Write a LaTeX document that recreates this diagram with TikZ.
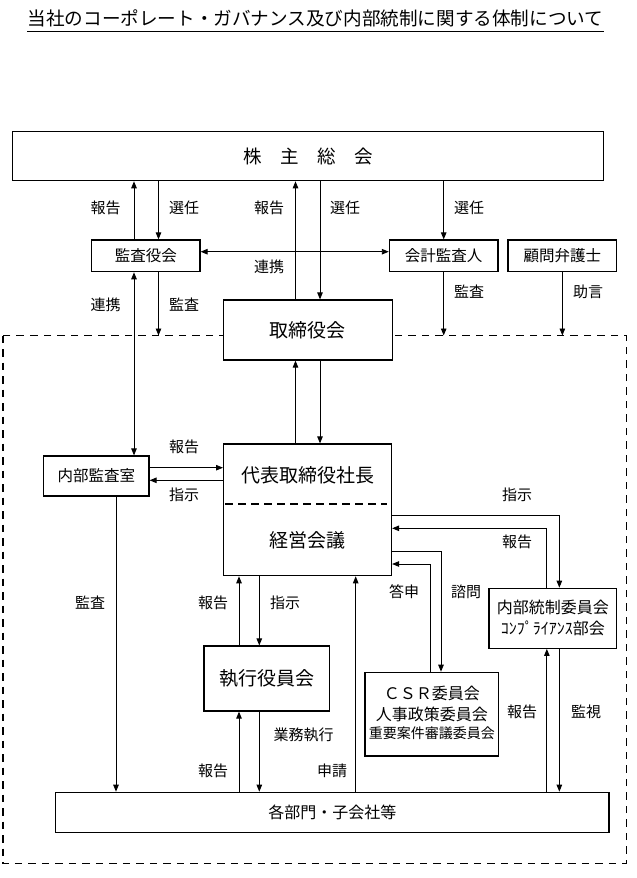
\documentclass[tikz,border=0pt]{standalone}
\usepackage{fontspec}
\setmainfont{Noto Sans CJK JP}
\usetikzlibrary{arrows.meta}
\begin{document}
\begin{tikzpicture}[x=1pt,y=-1pt,
  box/.style={draw, line width=1.2pt, fill=white, inner sep=0pt, align=center},
  lbl/.style={inner sep=0pt, font=\fontsize{15}{15}\selectfont},
  arr/.style={line width=0.9pt, -{Triangle[length=7pt,width=5.5pt]}},
  darr/.style={line width=0.9pt, {Triangle[length=7pt,width=5.5pt]}-{Triangle[length=7pt,width=5.5pt]}},
  frame/.style={line width=1.6pt, dash pattern=on 7.5pt off 6pt}]
\useasboundingbox (0,0) rectangle (637,878);
% title
\node[inner sep=0pt, font=\fontsize{18.6}{18.6}\selectfont] (title) at (315.5,18.8) {当社のコーポレート・ガバナンス及び内部統制に関する体制について};
\draw[line width=1pt] ([yshift=-3.4pt]title.south west) -- ([yshift=-3.4pt]title.south east);
% dashed frame
\draw[frame] (2.7,335.5) rectangle (626.3,863.3);
\coordinate (dtop) at (0,335.5);
% boxes
\node[box, minimum width=591pt, minimum height=49pt, font=\fontsize{18.5}{18.5}\selectfont] (kabu) at (308.2,156.2) {株　主　総　会};
\node[box, minimum width=108.5pt, minimum height=31.7pt, font=\fontsize{15.5}{15.5}\selectfont] (kansa) at (145.75,255.85) {監査役会};
\node[box, minimum width=108.6pt, minimum height=31.7pt, font=\fontsize{15.5}{15.5}\selectfont] (kaikei) at (443.7,255.85) {会計監査人};
\node[box, minimum width=108.7pt, minimum height=31.7pt, font=\fontsize{15.5}{15.5}\selectfont] (komon) at (562.35,255.85) {顧問弁護士};
\node[box, minimum width=168.7pt, minimum height=60pt, font=\fontsize{19}{19}\selectfont] (tori) at (307.95,330) {取締役会};
\node[box, minimum width=105.5pt, minimum height=40pt, font=\fontsize{15.5}{15.5}\selectfont] (naibu) at (96.25,476) {内部監査室};
\node[box, minimum width=167.9pt, minimum height=131.7pt] (daihyo) at (307.55,509.85) {};
\node[lbl, font=\fontsize{19}{19}\selectfont] (daihyoT) at (307.55,475) {代表取締役社長};
\node[lbl, font=\fontsize{19}{19}\selectfont] (keiei) at (307.55,540) {経営会議};
\draw[line width=1.6pt, dash pattern=on 7.5pt off 5.5pt] ([xshift=2pt,yshift=5.85pt]daihyo.west) -- ([xshift=-5.5pt,yshift=5.85pt]daihyo.east);
\node[box, minimum width=127.7pt, minimum height=60pt] (tosei) at (552.85,618.3) {};
\node[lbl, font=\fontsize{16}{16}\selectfont] (toseiA) at (552.85,607.7) {内部統制委員会};
\node[lbl, font=\fontsize{16}{16}\selectfont] (toseiB) at (552.85,628.3) {ｺﾝﾌﾟﾗｲｱﾝｽ部会};
\node[box, minimum width=125.7pt, minimum height=65pt, font=\fontsize{19}{19}\selectfont] (shikko) at (266.85,678.5) {執行役員会};
\node[box, minimum width=133.8pt, minimum height=83.7pt] (csr) at (431.9,714.15) {};
\node[lbl, font=\fontsize{16}{16}\selectfont] (csrA) at (431.9,693.3) {ＣＳＲ委員会};
\node[lbl, font=\fontsize{16}{16}\selectfont] (csrB) at (431.9,714) {人事政策委員会};
\node[lbl, font=\fontsize{14}{14}\selectfont] (csrC) at (431.9,733.3) {重要案件審議委員会};
\node[box, minimum width=553.5pt, minimum height=40pt, font=\fontsize{16}{16}\selectfont] (kakubu) at (332.25,812.3) {各部門・子会社等};
% connectors top
\draw[arr] ([xshift=-11.75pt]kansa.north) -- ([xshift=-11.75pt]kansa.north |- kabu.south);
\draw[arr] ([xshift=12.75pt]kansa.north |- kabu.south) -- ([xshift=12.75pt]kansa.north);
\draw[arr] ([xshift=-12.45pt]tori.north) -- ([xshift=-12.45pt]tori.north |- kabu.south);
\draw[arr] ([xshift=12.05pt]tori.north |- kabu.south) -- ([xshift=12.05pt]tori.north);
\draw[arr] (kaikei.north |- kabu.south) -- (kaikei.north);
\draw[darr] ([yshift=4.15pt]kansa.east) -- ([yshift=4.15pt]kaikei.west);
\draw[arr] ([xshift=12.75pt]kansa.south) -- ([xshift=12.75pt]kansa.south |- dtop);
\draw[darr] ([xshift=-11.75pt]kansa.south) -- ([xshift=-11.75pt]kansa.south |- naibu.north);
\draw[arr] (kaikei.south) -- (kaikei.south |- dtop);
\draw[arr] (komon.south) -- (komon.south |- dtop);
% torishimari - daihyo
\draw[arr] ([xshift=-12.05pt]daihyo.north) -- ([xshift=-12.05pt]daihyo.north |- tori.south);
\draw[arr] ([xshift=12.45pt]daihyo.north |- tori.south) -- ([xshift=12.45pt]daihyo.north);
% naibu - daihyo
\draw[arr] ([yshift=8.3pt]naibu.east) -- ([yshift=8.3pt]naibu.east -| daihyo.west);
\draw[arr] ([yshift=-4.3pt]naibu.east -| daihyo.west) -- ([yshift=-4.3pt]naibu.east);
\draw[arr] ([xshift=19.75pt]naibu.south) -- ([xshift=19.75pt]naibu.south |- kakubu.north);
% daihyo - tosei
\draw[arr] ([yshift=-5.85pt]daihyo.east) -| ([xshift=6.5pt]tosei.north);
\draw[arr] ([xshift=-6pt]tosei.north) |- ([yshift=-18.45pt]daihyo.east);
% daihyo - csr
\draw[arr] ([yshift=-41.85pt]daihyo.east) -| ([xshift=9.1pt]csr.north);
\draw[arr] ([xshift=-1.9pt]csr.north) |- ([yshift=-54.15pt]daihyo.east);
% daihyo - shikko
\draw[arr] ([xshift=-27.85pt]shikko.north) -- ([xshift=-27.85pt]shikko.north |- daihyo.south);
\draw[arr] ([xshift=-7.55pt]shikko.north |- daihyo.south) -- ([xshift=-7.55pt]shikko.north);
% shikko - kakubu
\draw[arr] ([xshift=-27.85pt]shikko.south |- kakubu.north) -- ([xshift=-27.85pt]shikko.south);
\draw[arr] ([xshift=-7.55pt]shikko.south) -- ([xshift=-7.55pt]shikko.south |- kakubu.north);
% shinsei
\draw[arr] ([xshift=48.15pt]daihyo.south |- kakubu.north) -- ([xshift=48.15pt]daihyo.south);
% tosei - kakubu
\draw[arr] ([xshift=-6pt]tosei.south |- kakubu.north) -- ([xshift=-6pt]tosei.south);
\draw[arr] ([xshift=6.5pt]tosei.south) -- ([xshift=6.5pt]tosei.south |- kakubu.north);
% labels
\node[lbl] (l1) at (105.7,208) {報告};
\node[lbl] (l2) at (184,208) {選任};
\node[lbl] (l3) at (269,208) {報告};
\node[lbl] (l4) at (345,208) {選任};
\node[lbl] (l5) at (469,208) {選任};
\node[lbl] (l6) at (269,266.7) {連携};
\node[lbl] (l7) at (105.7,305) {連携};
\node[lbl] (l8) at (184,305) {監査};
\node[lbl] (l9) at (469,291.7) {監査};
\node[lbl] (l10) at (588,291.7) {助言};
\node[lbl] (l11) at (184,447) {報告};
\node[lbl] (l12) at (184,495) {指示};
\node[lbl] (l13) at (517,495) {指示};
\node[lbl] (l14) at (517,541.7) {報告};
\node[lbl] (l15) at (404,591.7) {答申};
\node[lbl] (l16) at (466,591.7) {諮問};
\node[lbl] (l17) at (90,603) {監査};
\node[lbl] (l18) at (213,603) {報告};
\node[lbl] (l19) at (285,603) {指示};
\node[lbl] (l20) at (303.5,735) {業務執行};
\node[lbl] (l21) at (213,771) {報告};
\node[lbl] (l22) at (332,771) {申請};
\node[lbl] (l23) at (522,711.7) {報告};
\node[lbl] (l24) at (586,711.7) {監視};
\end{tikzpicture}
\end{document}
